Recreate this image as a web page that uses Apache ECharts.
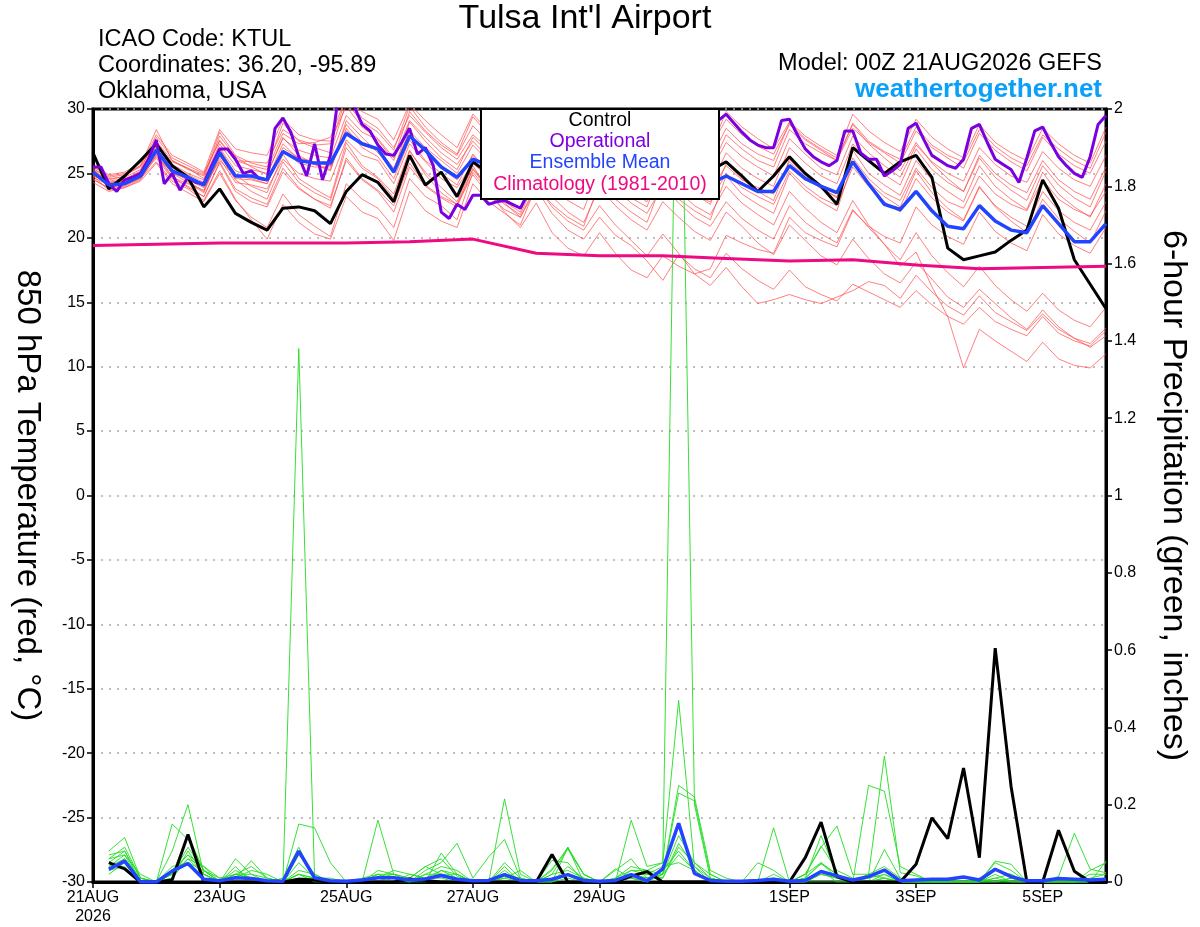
<!DOCTYPE html>
<html>
<head>
<meta charset="utf-8">
<title>Tulsa Int'l Airport GEFS</title>
<script src="https://cdn.jsdelivr.net/npm/echarts@6.0.0/dist/echarts.min.js"></script>
<style>
  html, body { margin: 0; padding: 0; background: #fff; }
  #main { width: 1200px; height: 927px; }
</style>
</head>
<body>
<div id="main"></div>
<script>
// x axis: forecast hours from 00Z 21AUG2026
var tickHours = [0, 48, 96, 144, 192, 264, 312, 360];
var tickLabels = ['21AUG\n2026', '23AUG', '25AUG', '27AUG', '29AUG', '1SEP', '3SEP', '5SEP'];

// 850 hPa temperature, 6-hourly from hour 0
var controlT = [26.6,23.8,24.8,26.0,27.3,25.6,24.7,22.4, 23.8,21.9,21.2,20.6,22.3,22.4,22.1,21.1,
  23.6,24.9,24.3,22.8,26.4,24.1,25.1,23.2, 25.9,25.0,24.4,25.6,24.0,25.2,24.5,23.8,
  25.1,24.6,25.8,24.2,25.4,24.8,26.0,25.2, 25.9,24.8,23.6,24.8,26.3,25.0,24.0,22.6,
  27.0,26.0,25.0,25.9,26.4,24.7,19.2,18.3, 18.6,18.9,19.8,20.6,24.5,22.3,18.3,16.4, 14.5];
var meanT = [25.1,24.1,24.2,24.8,26.8,25.2,24.7,24.1, 26.6,24.8,24.8,24.5,26.7,26.0,25.8,25.8,
  28.1,27.3,26.9,25.1,27.9,26.8,25.5,24.7, 26.1,25.6,25.0,25.8,25.3,24.9,25.5,25.1,
  24.8,25.6,25.0,24.7,25.3,24.9,24.5,24.2, 24.8,24.2,23.6,23.6,25.6,24.6,24.0,23.5,
  25.9,24.2,22.6,22.2,23.6,22.1,20.9,20.7, 22.5,21.3,20.6,20.4,22.5,21.1,19.7,19.7, 21.1];
// operational run, 3-hourly from hour 0
var operT = [25.5,25.5,24.2,23.6,24.5,24.7,25.0,26.1, 27.6,24.2,25.0,23.7,24.7,24.3,24.2,25.6,
  26.9,26.9,26.1,25.0,25.2,24.6,24.5,28.5, 29.3,28.2,26.3,24.8,27.3,24.5,26.4,31.0,
  31.5,30.2,28.8,28.3,27.2,26.5,26.4,27.4, 28.5,26.5,27.0,25.6,22.0,21.5,22.6,22.2,
  23.3,23.3,22.6,22.8,22.9,22.6,22.3,23.5, 24.6,25.8,26.4,25.9,25.1,25.6,26.8,27.5,
  26.9,26.0,25.4,26.2,27.3,28.0,27.4,26.5, 26.1,26.9,27.8,28.4,28.1,27.5,28.3,29.1,
  29.6,28.9,28.2,27.6,27.2,27.0,27.0,29.1, 29.2,28.0,26.9,26.3,25.9,25.6,26.0,28.3,
  28.3,26.6,26.1,26.1,24.8,25.2,25.7,28.5, 28.9,27.6,26.4,26.0,25.6,25.4,26.1,28.5,
  28.8,27.4,26.1,25.7,25.3,24.3,26.2,28.3, 28.6,27.4,26.3,25.6,25.0,24.7,26.3,28.8, 29.5];
// climatology (1981-2010), daily
var climHours = [0,24,48,72,96,120,144,168,192,216,240,264,288,312,336,360,384];
var climT = [19.4,19.5,19.6,19.6,19.6,19.7,19.9,18.8,18.6,18.6,18.4,18.2,18.3,17.9,17.6,17.7,17.8];

// ensemble members, 6-hourly from hour 0
var membersT = [
 [25.2,24.5,24.8,25.6,28.4,26.0,25.3,24.8, 28.2,26.4,25.8,25.5,28.9,27.5,27.0,26.6, 30.5,29.0,28.2,26.8,30.2,28.6,27.4,26.5,
  29.4,28.0,27.2,26.6,30.0,28.8,27.5,26.9, 29.6,28.4,27.6,27.0,29.9,28.5,27.8,27.0, 29.2,28.0,27.1,26.5,28.8,27.6,26.8,26.0,
  28.5,27.4,26.6,25.8,28.3,27.0,26.2,25.4, 28.1,26.8,25.9,25.2,27.8,26.5,25.6,25.0, 27.5],
 [24.6,23.8,24.0,24.6,26.5,24.8,23.9,23.2, 25.8,23.6,22.8,22.4,25.1,23.8,23.0,22.5, 26.0,24.5,23.6,22.0,25.5,24.0,23.1,22.4,
  25.3,23.8,22.6,21.8,24.6,23.2,22.0,21.2, 23.9,22.5,21.4,20.6,22.8,21.6,20.5,19.8, 22.0,20.9,19.6,18.7,21.0,19.8,18.6,17.9,
  19.9,18.4,17.2,16.5,18.1,16.8,15.4,14.6, 16.0,14.9,13.8,12.9,14.4,13.1,12.2,11.5, 12.4],
 [24.9,24.2,24.5,25.0,27.0,25.3,24.4,23.6, 26.9,24.9,24.0,23.5,26.5,24.6,23.8,23.1, 27.4,25.6,24.7,23.4,26.8,24.9,23.5,22.6,
  25.4,23.9,22.7,21.6,24.1,22.4,21.3,20.6, 22.5,21.0,19.8,18.6,20.3,18.8,17.2,16.3, 17.7,16.2,14.9,15.2,15.6,15.2,14.9,15.4,
  15.9,16.6,16.3,15.3,17.1,15.8,14.7,14.0, 15.5,14.2,13.5,12.8,14.1,12.9,12.2,11.8, 13.0],
 [25.0,24.0,24.3,24.9,26.9,25.0,24.6,24.0, 26.8,24.6,24.5,24.2,26.8,25.8,25.5,25.5, 28.3,27.2,26.8,25.0,28.1,26.7,25.4,24.5,
  26.4,25.2,24.6,24.0,26.5,25.3,24.7,24.1, 26.2,25.1,24.4,23.9,26.0,24.8,24.1,23.6, 25.6,24.5,23.9,23.4,25.9,24.7,23.8,23.2,
  26.2,24.6,23.5,22.9,25.4,23.9,22.8,22.3, 24.8,23.4,22.6,22.1,24.5,23.0,22.2,21.7, 23.6],
 [25.4,24.6,24.7,25.3,27.8,26.2,25.6,25.0, 27.5,26.0,25.9,25.8,28.4,27.6,27.2,27.3, 30.8,29.3,28.5,27.0,29.5,28.2,27.0,26.1,
  28.0,26.9,26.2,25.6,28.6,27.2,26.4,25.7, 28.4,27.0,26.1,25.3,27.9,26.7,25.9,25.3, 28.0,26.9,26.0,25.5,28.4,27.3,26.6,26.0,
  28.9,27.5,26.7,26.1,28.6,27.2,26.4,25.9, 28.4,27.1,26.2,25.6,28.0,26.9,26.0,25.4, 28.2],
 [24.3,23.6,23.9,24.4,25.8,24.2,23.5,22.8, 25.0,22.9,21.6,20.8,23.4,21.8,20.9,20.1, 24.2,23.0,22.3,20.8,24.6,23.2,22.5,21.4,
  25.1,23.6,22.8,22.0,25.2,23.7,22.9,22.2, 25.4,24.0,23.1,22.4,25.6,24.2,23.4,22.6, 25.8,24.6,23.6,22.9,26.1,24.8,23.9,23.1,
  26.8,25.0,24.1,23.3,26.0,24.5,23.6,22.8, 25.6,24.0,23.0,22.2,25.1,23.4,22.4,21.6, 24.2],
 [24.8,24.3,24.4,24.9,26.3,25.1,24.5,23.9, 26.0,24.8,24.6,24.2,27.0,26.2,25.9,25.6, 28.8,27.4,26.9,25.4,28.3,27.0,26.0,25.0,
  27.2,25.9,25.0,24.2,26.8,25.4,24.4,23.6, 25.9,24.6,23.6,22.8,25.0,23.6,22.5,21.8, 24.0,22.7,21.8,21.0,23.6,22.3,21.2,20.4,
  22.9,21.0,19.5,17.8,18.9,16.2,13.9,9.9, 12.9,12.0,11.2,10.4,11.9,10.6,10.1,9.9, 11.0],
 [25.6,24.9,25.1,25.8,27.2,25.9,25.4,24.6, 27.9,26.3,25.5,24.9,27.8,26.4,25.7,25.2, 29.1,27.8,26.6,25.2,29.0,27.5,26.2,25.3,
  27.8,26.6,25.7,25.1,27.9,26.7,25.8,25.2, 27.3,26.2,25.5,25.0,27.5,26.4,25.6,25.1, 27.4,26.3,25.5,24.8,27.7,26.5,25.4,24.9,
  27.9,26.6,25.6,24.7,27.2,25.9,25.0,24.4, 27.0,25.7,24.8,24.3,26.7,25.4,24.5,24.0, 26.4],
 [24.7,24.1,24.2,24.7,26.2,24.6,24.0,23.2, 25.9,23.8,23.1,22.6,25.4,23.9,23.0,22.3, 26.2,24.6,23.7,22.5,25.8,24.1,23.2,22.6,
  24.9,23.3,22.2,21.6,23.8,21.9,20.6,19.9, 21.6,20.2,19.4,18.2,16.7,18.7,17.6,16.9, 18.8,17.6,16.7,16.0,17.5,16.2,15.6,15.1,
  16.4,15.8,15.2,14.6,15.9,14.8,13.9,13.3, 14.6,13.5,12.9,12.4,13.9,12.6,12.0,11.6, 12.8],
 [25.3,24.7,24.9,25.5,27.5,26.0,25.4,24.9, 27.6,26.0,25.6,25.3,28.1,27.3,27.4,27.8, 31.0,29.8,29.2,27.6,30.4,29.1,28.0,27.0,
  29.6,28.3,27.5,26.9,29.8,28.4,27.6,26.8, 29.2,28.1,27.3,26.6,29.5,28.2,27.4,26.8, 29.8,28.6,27.7,26.9,29.0,27.9,27.1,26.4,
  29.6,28.3,27.4,26.7,29.2,27.8,26.9,26.2, 28.8,27.4,26.6,26.0,28.5,27.3,26.4,25.8, 28.6],
 [24.5,23.9,24.1,24.6,25.9,24.4,23.8,22.9, 25.2,23.0,21.4,19.9,22.6,21.2,20.3,19.9, 23.2,22.0,21.5,19.8,23.6,22.1,21.3,20.8,
  24.2,22.8,21.9,21.0,24.0,22.6,21.6,20.9, 24.3,23.0,22.0,21.2,24.5,23.0,22.1,21.4, 24.8,23.4,22.6,21.9,25.0,23.7,22.8,22.1,
  25.9,24.3,23.2,22.4,25.2,23.5,22.3,21.4, 24.0,22.4,21.3,20.4,23.0,21.5,20.5,19.6, 22.1],
 [25.1,24.4,24.6,25.1,27.1,25.5,24.9,24.3, 27.0,25.2,24.8,24.5,27.3,26.1,25.7,25.3, 28.5,27.0,26.3,24.6,27.6,26.0,25.0,24.1,
  26.5,25.1,24.2,23.5,26.1,24.7,23.7,23.0, 25.2,23.8,22.7,21.9,24.1,22.7,21.6,20.9, 22.8,21.5,20.6,19.9,22.5,21.2,20.3,19.6,
  22.2,20.8,19.5,18.3,20.4,18.6,17.3,16.2, 17.8,16.3,15.2,14.3,15.7,14.4,13.6,13.1, 14.6],
 [24.8,23.7,23.9,24.5,26.4,24.7,24.2,23.7, 26.2,24.3,24.1,23.8,26.1,25.0,24.6,24.4, 27.6,26.4,26.0,24.2,27.3,25.9,24.6,23.9,
  25.8,24.6,24.0,23.4,25.9,24.6,23.9,23.3, 25.6,24.4,23.7,23.1,25.4,24.1,23.3,22.8, 25.0,23.9,23.2,22.6,25.2,24.0,23.1,22.5,
  25.5,24.0,22.8,22.0,24.6,23.1,22.0,21.3, 23.9,22.5,21.6,20.9,23.6,22.1,21.2,20.6, 22.8],
 [25.5,24.8,25.0,25.6,28.0,26.4,25.8,25.1, 28.4,26.9,26.6,26.4,29.2,28.0,27.6,27.5, 30.2,28.6,27.7,26.2,29.8,28.3,27.2,26.4,
  28.7,27.4,26.7,26.0,28.9,27.5,26.7,26.1, 28.9,27.7,26.9,26.3,28.6,27.3,26.6,26.1, 28.5,27.3,26.5,26.0,28.9,27.7,26.9,26.2,
  28.8,27.3,26.2,25.2,27.4,25.8,24.6,23.6, 26.2,24.7,23.7,22.9,25.6,24.1,23.1,22.4, 25.2],
 [24.9,24.2,24.4,24.8,26.6,25.0,24.3,23.5, 26.4,24.5,23.6,23.0,25.9,24.3,23.5,22.9, 27.0,25.4,24.6,23.1,26.7,25.1,23.9,22.8,
  25.6,23.6,22.0,20.8,22.7,20.4,19.2,18.6, 20.4,18.8,17.5,16.9,18.6,17.8,17.2,17.6, 20.2,19.6,19.1,18.8,21.6,20.4,19.8,19.3,
  22.1,20.9,20.1,19.6,22.4,21.0,20.1,19.5, 22.0,20.5,19.6,19.0,21.8,20.3,19.4,18.8, 20.8],
 [25.3,24.3,24.5,25.2,27.4,25.7,25.0,24.5, 27.3,25.6,25.3,25.0,27.7,26.8,26.4,26.2, 29.5,28.2,27.6,26.0,29.1,27.8,26.6,25.7,
  27.5,26.2,25.4,24.7,27.3,26.0,25.2,24.5, 26.9,25.7,24.9,24.3,26.8,25.5,24.6,24.0, 26.6,25.4,24.6,24.0,27.0,25.8,24.8,24.2,
  27.3,25.9,24.9,24.1,26.9,25.3,24.3,23.6, 26.4,25.0,24.1,23.5,26.0,24.5,23.6,23.0, 25.5]
];

// 6-hour precipitation (inches), 6-hourly from hour 6
var controlP = [0.05,0.034,0,0,0.005,0.123,0,0, 0,0,0,0,0.007,0.005,0,0,
  0,0,0,0.008,0.004,0,0,0, 0,0,0,0,0.071,0,0,0,
  0,0.015,0.027,0,0,0,0,0, 0,0,0,0,0.063,0.155,0.014,0,
  0,0,0,0.046,0.166,0.112,0.295,0.063, 0.605,0.248,0,0,0.134,0.028,0,0];
var meanP = [0.033,0.054,0,0,0.028,0.048,0.007,0.003, 0.011,0.009,0.003,0.002,0.08,0.011,0.003,0.002,
  0.005,0.011,0.011,0.005,0.008,0.017,0.007,0.003, 0.004,0.019,0.004,0.003,0.007,0.019,0.004,0.002,
  0.004,0.019,0.003,0.034,0.152,0.022,0.004,0.002, 0.002,0.004,0.007,0.002,0.004,0.027,0.016,0.005,
  0.014,0.031,0.003,0.005,0.007,0.007,0.013,0.005, 0.033,0.014,0.003,0.003,0.009,0.007,0.005,0.007];
var membersP = [
 [0.06,0.09,0.01,0,0.02,0.12,0.03,0, 0.02,0.01,0,0,1.38,0.01,0,0, 0,0.01,0,0.02,0.01,0.03,0.02,0, 0,0.01,0,0,0.02,0.03,0.01,0,
  0,0.02,0.01,0.02,0.23,0.21,0.02,0, 0,0,0.01,0,0.02,0.05,0.01,0, 0.01,0.02,0,0,0,0,0,0, 0.01,0.02,0,0,0,0,0.01,0.02],
 [0.04,0.07,0.02,0,0.08,0.2,0.02,0, 0.06,0.02,0,0,0.02,0.01,0,0, 0,0.16,0.02,0,0.01,0.02,0.01,0, 0,0.02,0.01,0,0,0.01,0,0,
  0.01,0.03,0.03,0.05,2.6,0.2,0.01,0, 0,0,0.02,0,0,0.02,0.01,0, 0,0.01,0,0,0,0,0,0.01, 0,0.01,0,0,0.01,0,0,0],
 [0.03,0.06,0.01,0,0.15,0.11,0.03,0.01, 0.01,0.055,0.01,0,0.15,0.14,0.05,0, 0,0,0,0.01,0.04,0.02,0,0, 0,0.02,0,0,0,0.09,0.02,0,
  0,0.16,0.04,0.05,0.47,0.04,0,0, 0,0,0.14,0,0.01,0.12,0.02,0, 0,0,0,0,0,0.01,0,0, 0.05,0.03,0,0,0,0,0,0],
 [0.05,0.08,0,0,0.03,0.07,0.02,0, 0.03,0.01,0,0.01,0.09,0.01,0,0, 0,0.02,0.01,0,0.03,0.05,0.1,0.01, 0.065,0.11,0.01,0,0.03,0.09,0,0,
  0,0.01,0,0.02,0.25,0.22,0.03,0.01, 0,0,0,0,0.02,0.09,0.145,0.02, 0.02,0.01,0,0,0,0,0,0, 0,0,0,0,0,0,0.03,0.05],
 [0.07,0.08,0.01,0,0.01,0.06,0.04,0, 0.02,0.02,0.01,0,0.07,0.02,0,0, 0,0.03,0.02,0,0,0.075,0.02,0, 0,0.215,0.02,0,0.056,0.05,0,0,
  0.03,0.06,0.01,0.01,0.1,0.04,0.01,0, 0,0,0,0,0.01,0.05,0.02,0, 0.25,0.235,0.04,0.02,0,0,0,0, 0.02,0,0,0,0,0,0.02,0.02],
 [0.02,0.05,0,0,0.02,0.09,0.03,0, 0.01,0.03,0.02,0,0.02,0,0,0, 0,0.01,0.02,0.01,0,0.03,0.01,0, 0,0.03,0,0,0.034,0.086,0.02,0,
  0.034,0.01,0,0.03,0.08,0.03,0,0, 0,0,0,0,0,0.02,0.01,0, 0.02,0.326,0.024,0.016,0,0,0,0, 0,0,0,0,0,0,0,0],
 [0.08,0.115,0.01,0,0.01,0.08,0.02,0, 0.01,0.01,0,0,0.01,0.01,0.01,0, 0,0.01,0.03,0.02,0.01,0.01,0,0, 0,0.01,0.03,0,0,0.04,0.01,0,
  0,0.02,0.01,0.02,0.12,0.05,0.01,0, 0,0.05,0.03,0,0,0,0,0, 0,0.084,0.01,0,0,0,0,0, 0.054,0.046,0,0,0.014,0.126,0.033,0.024],
 [0.04,0.06,0,0,0.04,0.05,0.03,0, 0.04,0,0,0,0.02,0.01,0,0, 0.01,0.02,0,0,0.02,0.04,0.03,0, 0,0.04,0,0,0,0.02,0,0,
  0,0.03,0.02,0.04,0.05,0.03,0,0, 0,0,0,0,0.02,0.093,0.03,0.01, 0,0.02,0,0,0,0,0,0, 0,0.01,0,0,0,0,0,0.054],
 [0.06,0.07,0,0,0.02,0.06,0.02,0, 0.02,0.04,0.01,0,0.05,0.01,0,0, 0,0.01,0.01,0,0.02,0.02,0.02,0, 0,0.015,0,0,0.02,0.086,0.02,0,
  0,0.02,0.02,0.01,0.09,0.05,0.02,0, 0,0,0,0,0.01,0.047,0.02,0, 0,0.01,0,0,0,0,0,0, 0.01,0,0,0,0,0,0,0],
 [0.03,0.04,0,0,0.03,0.07,0.04,0.01, 0.02,0.01,0,0,0.03,0.02,0,0, 0,0.02,0.02,0.01,0.04,0.06,0.015,0, 0,0.05,0.01,0,0.01,0.02,0,0,
  0.01,0.04,0.03,0.02,0.07,0.03,0,0, 0,0,0,0,0,0.03,0,0, 0.02,0.04,0.01,0,0,0,0,0, 0.03,0.02,0,0,0,0,0,0]
];

function pairs(vals, start, step) {
    return vals.map(function (v, i) { return [start + i * step, v]; });
}

var FONT = 'Liberation Sans, Arial, Helvetica, sans-serif';
var series = [];
membersT.forEach(function (m) {
    series.push({ type: 'line', data: pairs(m, 0, 6), symbol: 'none', z: 2, silent: true,
        lineStyle: { color: '#ff4a4a', width: 1, opacity: 0.7 } });
});
membersP.forEach(function (m) {
    series.push({ type: 'line', yAxisIndex: 1, data: pairs(m, 6, 6), symbol: 'none', z: 3, silent: true,
        lineStyle: { color: '#22dd22', width: 1, opacity: 0.9 } });
});
series.push({ name: 'Control', type: 'line', data: pairs(controlT, 0, 6), symbol: 'none', z: 5,
    lineStyle: { color: '#000', width: 3 } });
series.push({ name: 'Control precip', type: 'line', yAxisIndex: 1, data: pairs(controlP, 6, 6), symbol: 'none', z: 5,
    lineStyle: { color: '#000', width: 3 } });
series.push({ name: 'Operational', type: 'line', data: pairs(operT, 0, 3), symbol: 'none', z: 6,
    lineStyle: { color: '#7a00e0', width: 3 } });
series.push({ name: 'Ensemble Mean', type: 'line', data: pairs(meanT, 0, 6), symbol: 'none', z: 7,
    lineStyle: { color: '#2244ff', width: 3.5 } });
series.push({ name: 'Mean precip', type: 'line', yAxisIndex: 1, data: pairs(meanP, 6, 6), symbol: 'none', z: 7,
    lineStyle: { color: '#2244ff', width: 3.5 } });
series.push({ name: 'Climatology', type: 'line', data: climHours.map(function (h, i) { return [h, climT[i]]; }),
    symbol: 'none', z: 8, lineStyle: { color: '#ee0a82', width: 3 } });

var option = {
    animation: false,
    backgroundColor: '#fff',
    textStyle: { fontFamily: FONT },
    grid: { left: 93, right: 94, top: 109, bottom: 45, show: true, borderColor: '#000', borderWidth: 3,
        containLabel: false, outerBoundsMode: 'none' },
    xAxis: {
        type: 'value', min: 0, max: 384, position: 'bottom',
        axisLine: { show: true, onZero: false, lineStyle: { color: '#000', width: 3 } },
        axisTick: { show: true, customValues: tickHours, length: 6, lineStyle: { color: '#000', width: 1.5 } },
        axisLabel: {
            customValues: tickHours, color: '#000', fontSize: 16, margin: 6, lineHeight: 19, fontFamily: FONT,
            formatter: function (v) { var k = tickHours.indexOf(v); return k >= 0 ? tickLabels[k] : ''; }
        },
        splitLine: { show: false }
    },
    yAxis: [{
        type: 'value', min: -30, max: 30, interval: 5, position: 'left',
        name: '850 hPa Temperature (red, \u00B0C)', nameLocation: 'middle', nameRotate: -90, nameGap: 49,
        nameTextStyle: { fontSize: 33, color: '#000', fontFamily: FONT },
        axisLine: { show: true, onZero: false, lineStyle: { color: '#000', width: 3 } },
        axisTick: { show: true, length: 6, lineStyle: { color: '#000', width: 1.5 } },
        axisLabel: { color: '#000', fontSize: 16, margin: 8, fontFamily: FONT },
        splitLine: { show: true, lineStyle: { color: '#aaa', type: [2, 6], width: 1.5 } }
    }, {
        type: 'value', min: 0, max: 2, interval: 0.2, position: 'right',
        name: '6-hour Precipitation (green, inches)', nameLocation: 'middle', nameRotate: -90, nameGap: 50,
        nameTextStyle: { fontSize: 34, color: '#000', fontFamily: FONT },
        axisLine: { show: true, onZero: false, lineStyle: { color: '#000', width: 3 } },
        axisTick: { show: true, length: 6, lineStyle: { color: '#000', width: 1.5 } },
        axisLabel: { color: '#000', fontSize: 16, margin: 8, fontFamily: FONT,
            formatter: function (v) { return String(+v.toFixed(1)); } },
        splitLine: { show: false }
    }],
    series: series,
    graphic: [
        { type: 'text', x: 585, y: 19, z: 100, style: { text: "Tulsa Int'l Airport", font: '34px ' + FONT, fill: '#000', align: 'center', verticalAlign: 'middle' } },
        { type: 'text', x: 98, y: 40, z: 100, style: { text: 'ICAO Code: KTUL', font: '23.5px ' + FONT, fill: '#000', align: 'left', verticalAlign: 'middle' } },
        { type: 'text', x: 98, y: 66, z: 100, style: { text: 'Coordinates: 36.20, -95.89', font: '23.5px ' + FONT, fill: '#000', align: 'left', verticalAlign: 'middle' } },
        { type: 'text', x: 98, y: 92, z: 100, style: { text: 'Oklahoma, USA', font: '23.5px ' + FONT, fill: '#000', align: 'left', verticalAlign: 'middle' } },
        { type: 'text', x: 1102, y: 64, z: 100, style: { text: 'Model: 00Z 21AUG2026 GEFS', font: '23.5px ' + FONT, fill: '#000', align: 'right', verticalAlign: 'middle' } },
        { type: 'text', x: 1102, y: 90, z: 100, style: { text: 'weathertogether.net', font: 'bold 26px ' + FONT, fill: '#0aa0f8', align: 'right', verticalAlign: 'middle' } },
        { type: 'rect', z: 100, shape: { x: 481, y: 109, width: 238, height: 90 }, style: { fill: '#fff', stroke: '#000', lineWidth: 2 } },
        { type: 'text', x: 600, y: 121, z: 101, style: { text: 'Control', font: '19.5px ' + FONT, fill: '#000', align: 'center', verticalAlign: 'middle' } },
        { type: 'text', x: 600, y: 142, z: 101, style: { text: 'Operational', font: '19.5px ' + FONT, fill: '#8000dd', align: 'center', verticalAlign: 'middle' } },
        { type: 'text', x: 600, y: 163, z: 101, style: { text: 'Ensemble Mean', font: '19.5px ' + FONT, fill: '#2244ff', align: 'center', verticalAlign: 'middle' } },
        { type: 'text', x: 600, y: 185, z: 101, style: { text: 'Climatology (1981-2010)', font: '19.5px ' + FONT, fill: '#ee0a82', align: 'center', verticalAlign: 'middle' } }
    ]
};

var chart = echarts.init(document.getElementById('main'));
chart.setOption(option);
</script>
</body>
</html>
